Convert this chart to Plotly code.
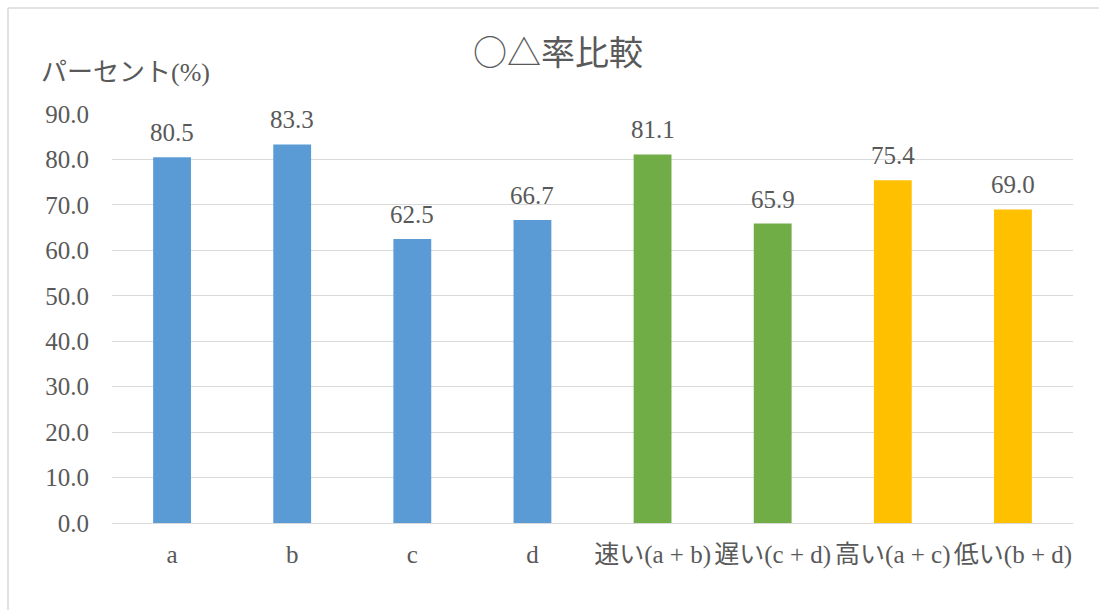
import plotly.graph_objects as go

categories = ["a", "b", "c", "d", "速い(a + b)", "遅い(c + d)", "高い(a + c)", "低い(b + d)"]
values = [80.5, 83.3, 62.5, 66.7, 81.1, 65.9, 75.4, 69.0]
bar_colors = ["#5B9BD5", "#5B9BD5", "#5B9BD5", "#5B9BD5",
              "#70AD47", "#70AD47", "#FFC000", "#FFC000"]
y_ticks = [0, 10, 20, 30, 40, 50, 60, 70, 80, 90]
y_tick_labels = [f"{v:.1f}" for v in y_ticks]

W, H = 1099, 610
ML, MR, MT, MB = 112, 26, 114, 87

font_family = "Liberation Serif, Noto Sans CJK JP, serif"
cjk_family = "Noto Sans CJK JP, Liberation Serif, serif"
text_gray = "#595959"

fig = go.Figure(go.Bar(
    x=categories,
    y=values,
    marker=dict(color=bar_colors, line=dict(width=0)),
    width=0.315,
    hoverinfo="x+y",
))

pw = W - ML - MR
ph = H - MT - MB

def px_x(p):
    return (p - ML) / pw

def px_y(p):
    return (H - MB - p) / ph

# value labels above each bar
value_labels = [
    dict(x=c, y=v, xref="x", yref="y", text=f"{v:.1f}",
         showarrow=False, xanchor="center", yanchor="bottom", yshift=9,
         font=dict(size=25, color=text_gray, family=font_family))
    for c, v in zip(categories, values)
]

fig.update_layout(
    width=W, height=H,
    margin=dict(l=ML, r=MR, t=MT, b=MB),
    paper_bgcolor="white",
    plot_bgcolor="white",
    showlegend=False,
    font=dict(family=font_family, color=text_gray),
    title=dict(
        text="○△率比較",
        xref="container", yref="container",
        x=558 / W, xanchor="center",
        y=1 - 53 / H, yanchor="middle",
        font=dict(size=34, color=text_gray, family=cjk_family),
    ),
    xaxis=dict(
        showgrid=False, showline=False, ticks="",
        ticklabelstandoff=14,
        tickfont=dict(size=25, color=text_gray, family=font_family),
        fixedrange=True,
    ),
    yaxis=dict(
        range=[0, 90],
        tickvals=y_ticks, ticktext=y_tick_labels,
        showgrid=True, gridcolor="#D9D9D9", gridwidth=1.3,
        zeroline=True, zerolinecolor="#D9D9D9", zerolinewidth=1.3,
        showline=False, ticks="",
        ticklabelstandoff=22,
        tickfont=dict(size=25, color=text_gray, family=font_family),
        fixedrange=True,
    ),
    annotations=value_labels + [dict(
        text="パーセント(%)",
        xref="paper", yref="paper",
        x=px_x(39), y=px_y(73),
        xanchor="left", yanchor="middle",
        showarrow=False,
        font=dict(size=26, color=text_gray, family=font_family),
    )],
    shapes=[
        dict(type="line", xref="paper", yref="paper",
             x0=px_x(8), x1=px_x(W + 5), y0=px_y(8), y1=px_y(8),
             line=dict(color="#D9D9D9", width=1.5)),
        dict(type="line", xref="paper", yref="paper",
             x0=px_x(8), x1=px_x(8), y0=px_y(8), y1=px_y(H + 5),
             line=dict(color="#D9D9D9", width=1.5)),
    ],
)

fig.write_html("out.html")
